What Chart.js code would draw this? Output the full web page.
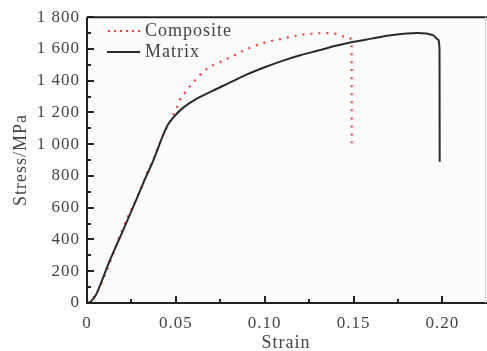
<!DOCTYPE html>
<html>
<head>
<meta charset="utf-8">
<script src="https://cdn.jsdelivr.net/npm/chart.js@4.4.0/dist/chart.umd.min.js"></script>
<style>
  html, body { margin: 0; padding: 0; background: #fff; }
  #wrap { width: 487px; height: 351px; }
</style>
</head>
<body>
<div id="wrap"><canvas id="stressChart"></canvas></div>
<script>
// strain / stress
const matrixStrain = [0, 0.002, 0.005, 0.008, 0.012, 0.02, 0.028, 0.033, 0.0373, 0.0405, 0.043, 0.0455, 0.0485, 0.054, 0.0616, 0.0706, 0.08, 0.09, 0.1, 0.11, 0.12, 0.13, 0.14, 0.15, 0.16, 0.17, 0.18, 0.186, 0.191, 0.195, 0.1975, 0.1984, 0.1985];
const matrixStress = [0, 8, 50, 130, 245, 450, 658, 790, 897, 990, 1062, 1122, 1167, 1229, 1286, 1336, 1386, 1440, 1485, 1525, 1560, 1590, 1620, 1645, 1665, 1685, 1698, 1700, 1698, 1685, 1660, 1600, 890];

const compStrain = [0, 0.003, 0.006, 0.011, 0.02, 0.0303, 0.0337, 0.0377, 0.042, 0.046, 0.0483, 0.0505, 0.052, 0.055, 0.058, 0.0674, 0.075, 0.082, 0.09, 0.1, 0.11, 0.12, 0.13, 0.135, 0.14, 0.145, 0.1489, 0.149];
const compStress = [0, 25, 75, 200, 465, 721, 815, 916, 1035, 1129, 1179, 1229, 1275, 1323, 1367, 1474, 1518, 1555, 1599, 1640, 1665, 1688, 1698, 1700, 1695, 1678, 1655, 1000];

const xTicks = [0, 0.05, 0.10, 0.15, 0.20];
const xTickLabels = ['0', '0.05', '0.10', '0.15', '0.20'];
const yTickLabels = ['0', '200', '400', '600', '800', '1 000', '1 200', '1 400', '1 600', '1 800'];

const seriesNames = ['Composite', 'Matrix'];

const FONT = "'Liberation Serif', 'Times New Roman', serif";
const TEXT = '#444';

const toPts = (xs, ys) => xs.map((x, i) => ({ x: x, y: ys[i] }));

// frame, inward ticks and legend
const decor = {
  id: 'decor',
  beforeDraw(chart) {
    const { ctx, chartArea: a } = chart;
    ctx.save();
    ctx.fillStyle = '#fbfbfb';
    ctx.fillRect(a.left, a.top, a.right - a.left, a.bottom - a.top);
    ctx.restore();
    ctx.letterSpacing = '1px';
  },
  afterDraw(chart) {
    const { ctx, chartArea: a, scales } = chart;
    ctx.save();
    ctx.strokeStyle = '#222';
    ctx.lineWidth = 2;
    ctx.beginPath();
    ctx.moveTo(a.left, a.top); ctx.lineTo(487, a.top);
    ctx.moveTo(a.left, a.top); ctx.lineTo(a.left, a.bottom);
    ctx.lineTo(487, a.bottom);
    ctx.stroke();
    ctx.strokeStyle = '#ccc';
    ctx.lineWidth = 1;
    ctx.beginPath();
    ctx.moveTo(a.right + 0.5, a.top); ctx.lineTo(a.right + 0.5, a.bottom);
    ctx.stroke();

    ctx.strokeStyle = '#222';
    ctx.lineWidth = 2;
    ctx.beginPath();
    scales.x.ticks.forEach(t => {
      const px = Math.round(scales.x.getPixelForValue(t.value));
      const major = Math.abs(Math.round(t.value * 1000) % 50) === 0;
      if (t.value === 0) return;
      ctx.moveTo(px, a.bottom); ctx.lineTo(px, a.bottom - (major ? 7 : 4));
    });
    scales.y.ticks.forEach(t => {
      const py = Math.round(scales.y.getPixelForValue(t.value));
      const major = t.value % 200 === 0;
      if (t.value === 0) return;
      ctx.moveTo(a.left, py); ctx.lineTo(a.left + (major ? 7 : 4), py);
    });
    ctx.stroke();

    // legend
    ctx.font = '18px ' + FONT;
    ctx.letterSpacing = '1px';
    ctx.fillStyle = TEXT;
    ctx.textBaseline = 'middle';
    ctx.textAlign = 'left';
    ctx.strokeStyle = '#ff3b3b';
    ctx.lineWidth = 2;
    ctx.setLineDash([2, 4]);
    ctx.beginPath(); ctx.moveTo(108, 31); ctx.lineTo(141, 31); ctx.stroke();
    ctx.setLineDash([]);
    ctx.strokeStyle = '#2a2a2a';
    ctx.beginPath(); ctx.moveTo(107, 52); ctx.lineTo(140, 52); ctx.stroke();
    ctx.fillText(seriesNames[0], 145, 31);
    ctx.fillText(seriesNames[1], 145, 52);
    ctx.restore();
  }
};

const ctx = document.getElementById('stressChart').getContext('2d');
const myChart = new Chart(ctx, {
  type: 'line',
  data: {
    datasets: [
      {
        label: seriesNames[1],
        data: toPts(matrixStrain, matrixStress),
        borderColor: '#2a2a2a',
        borderWidth: 2,
        pointRadius: 0,
        cubicInterpolationMode: 'monotone'
      },
      {
        label: seriesNames[0],
        data: toPts(compStrain, compStress),
        borderColor: '#ff3b3b',
        borderWidth: 2.2,
        borderDash: [2, 6],
        pointRadius: 0,
        cubicInterpolationMode: 'monotone'
      }
    ]
  },
  options: {
    responsive: true,
    maintainAspectRatio: false,
    animation: false,
    layout: { padding: { top: 16, right: 2, left: 0, bottom: 0 } },
    plugins: { legend: { display: false }, tooltip: { enabled: false } },
    scales: {
      x: {
        type: 'linear',
        min: 0,
        max: 0.224,
        afterFit: s => { s.height = 48; },
        afterBuildTicks: s => {
          const out = [];
          for (let i = 0; i <= 8; i++) out.push({ value: i * 0.025 });
          s.ticks = out;
        },
        grid: { display: false, drawTicks: false },
        border: { display: false },
        ticks: {
          autoSkip: false,
          maxRotation: 0,
          padding: 10,
          color: TEXT,
          font: { family: FONT, size: 17 },
          callback: v => {
            const i = xTicks.findIndex(t => Math.abs(t - v) < 1e-6);
            return i >= 0 ? xTickLabels[i] : '';
          }
        },
        title: { display: true, text: 'Strain', color: TEXT, font: { family: FONT, size: 18 }, padding: { top: 0, bottom: -3 } }
      },
      y: {
        min: 0,
        max: 1800,
        afterFit: s => { s.width = 87; },
        grid: { display: false, drawTicks: false },
        border: { display: false },
        ticks: {
          stepSize: 100,
          autoSkip: false,
          padding: 7,
          color: TEXT,
          font: { family: FONT, size: 17 },
          callback: v => v % 200 === 0 ? yTickLabels[v / 200] : ''
        },
        title: { display: true, text: 'Stress/MPa', color: TEXT, font: { family: FONT, size: 18 }, padding: { top: 10, bottom: 2 } }
      }
    }
  },
  plugins: [decor]
});
</script>
</body>
</html>
